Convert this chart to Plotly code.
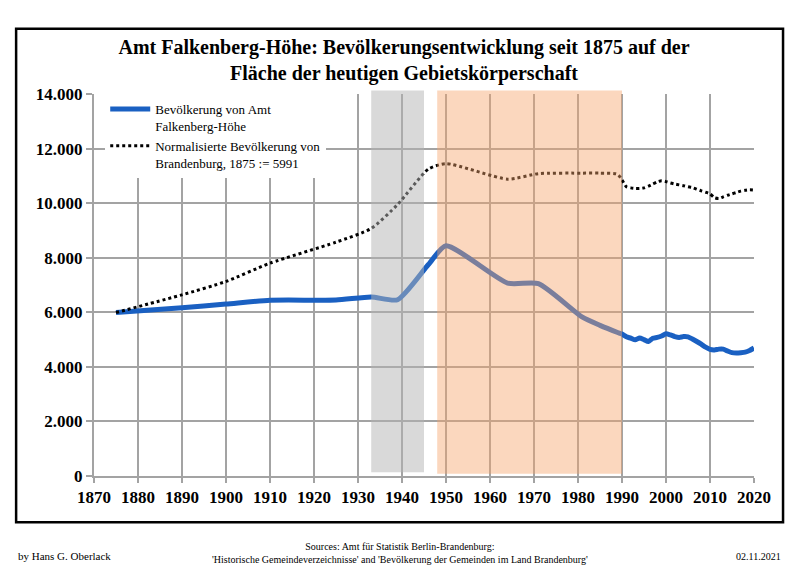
import plotly.graph_objects as go

# ---- data ----
years_amt = [1875, 1890, 1900, 1910, 1925, 1933, 1939, 1946, 1950, 1964, 1971, 1981, 1985, 1989,
             1990, 1991, 1992, 1993, 1994, 1995, 1996, 1997, 1998, 1999, 2000, 2001, 2002, 2003,
             2004, 2005, 2006, 2007, 2008, 2009, 2010, 2011, 2012, 2013, 2014, 2015, 2016, 2017,
             2018, 2019, 2020]
pop_amt = [5991, 6170, 6300, 6440, 6450, 6560, 6460, 7750, 8440, 7070, 7050, 5820, 5520, 5260,
           5200, 5100, 5050, 4990, 5060, 5000, 4930, 5050, 5080, 5130, 5210, 5170, 5110, 5080,
           5110, 5100, 5020, 4930, 4830, 4720, 4640, 4620, 4650, 4650, 4580, 4520, 4510, 4520,
           4540, 4600, 4690]

years_bb = [1875, 1890, 1900, 1910, 1925, 1933, 1939, 1946, 1950, 1964, 1971, 1981, 1985, 1989,
            1990, 1991, 1992, 1993, 1994, 1995, 1996, 1997, 1998, 1999, 2000, 2001, 2002, 2003,
            2004, 2005, 2006, 2007, 2008, 2009, 2010, 2011, 2012, 2013, 2014, 2015, 2016, 2017,
            2018, 2019, 2020]
pop_bb = [5991, 6640, 7130, 7800, 8570, 9070, 9950, 11250, 11450, 10880, 11080, 11100, 11100, 11060,
          10850, 10600, 10560, 10540, 10540, 10560, 10620, 10700, 10780, 10820, 10790, 10740, 10700, 10670,
          10640, 10600, 10570, 10510, 10450, 10400, 10340, 10200, 10170, 10230, 10290, 10340, 10390, 10440,
          10470, 10490, 10480]

name_amt = "Bevölkerung von Amt<br>Falkenberg-Höhe"
name_bb = "Normalisierte Bevölkerung von<br>Brandenburg, 1875 := 5991"

title_text = ("Amt Falkenberg-Höhe: Bevölkerungsentwicklung seit 1875 auf der<br>"
              "Fläche der heutigen Gebietskörperschaft")

band_nazi = (1933, 1945)
band_gdr = (1948, 1990)

FONT = "Liberation Serif"
GRID = "#a3a3a3"

# the page shows the figure offset by the default 8px body margin
W, H = 792, 558

fig = go.Figure()
fig.add_trace(go.Scatter(x=years_amt, y=pop_amt, mode="lines", name=name_amt,
                         line=dict(color="#1a60c2", width=5, shape="spline", smoothing=0.6)))
fig.add_trace(go.Scatter(x=years_bb, y=pop_bb, mode="lines", name=name_bb,
                         line=dict(color="black", width=3, dash="dot", shape="spline", smoothing=0.6)))

shapes = [
    dict(type="rect", xref="x", yref="paper", x0=band_nazi[0], x1=band_nazi[1], y0=0.01, y1=1.009,
         fillcolor="rgba(179,179,179,0.5)", line=dict(width=0), layer="above"),
    dict(type="rect", xref="x", yref="paper", x0=band_gdr[0], x1=band_gdr[1], y0=0.006, y1=1.009,
         fillcolor="rgba(246,164,107,0.44)", line=dict(width=0), layer="above"),
    dict(type="rect", xref="paper", yref="paper", x0=-0.118, x1=1.044, y0=-0.121, y1=1.171,
         line=dict(color="black", width=2.5), fillcolor="rgba(0,0,0,0)", layer="below"),
]

fig.update_layout(
    width=W, height=H,
    margin=dict(l=86, r=46, t=85.5, b=89.5),
    paper_bgcolor="white", plot_bgcolor="white",
    separators=",.",
    font=dict(family=FONT, color="black"),
    title=dict(text="<b>" + title_text + "</b>", x=0.5, xanchor="center",
               y=1 - 46 / H, yanchor="top", yref="container",
               font=dict(family=FONT, size=20, color="black")),
    showlegend=True,
    legend=dict(x=0.017, y=1.0, xanchor="left", yanchor="top", bgcolor="white",
                font=dict(family=FONT, size=13, color="black"), valign="top",
                tracegroupgap=0, itemwidth=40),
    shapes=shapes,
    xaxis=dict(range=[1870, 2020], tick0=1870, dtick=10, showgrid=True, gridcolor=GRID, gridwidth=2,
               showline=True, linecolor=GRID, linewidth=2, ticks="outside", ticklen=5,
               tickwidth=2, tickcolor=GRID, zeroline=False,
               tickfont=dict(family=FONT, size=17, color="black", weight="bold")),
    yaxis=dict(range=[0, 14000], tick0=0, dtick=2000, tickformat=",d", showgrid=True,
               gridcolor=GRID, gridwidth=2, showline=True, linecolor=GRID, linewidth=2,
               ticks="outside", ticklen=6, tickwidth=2, tickcolor=GRID, zeroline=False,
               tickfont=dict(family=FONT, size=17, color="black", weight="bold")),
    annotations=[
        dict(text="by Hans G. Oberlack", xref="paper", yref="paper", x=-0.118, y=-0.21,
             xanchor="left", yanchor="middle", showarrow=False, font=dict(family=FONT, size=11)),
        dict(text="Sources: Amt für Statistik Berlin-Brandenburg:<br>"
                  "'Historische Gemeindeverzeichnisse' and 'Bevölkerung der Gemeinden im Land Brandenburg'",
             xref="paper", yref="paper", x=(400 - 94) / 660, y=-0.2015, xanchor="center",
             yanchor="middle", showarrow=False, font=dict(family=FONT, size=10)),
        dict(text="02.11.2021", xref="paper", yref="paper", x=1.044, y=-0.21,
             xanchor="right", yanchor="middle", showarrow=False, font=dict(family=FONT, size=10)),
    ],
)

fig.write_html("out.html")
